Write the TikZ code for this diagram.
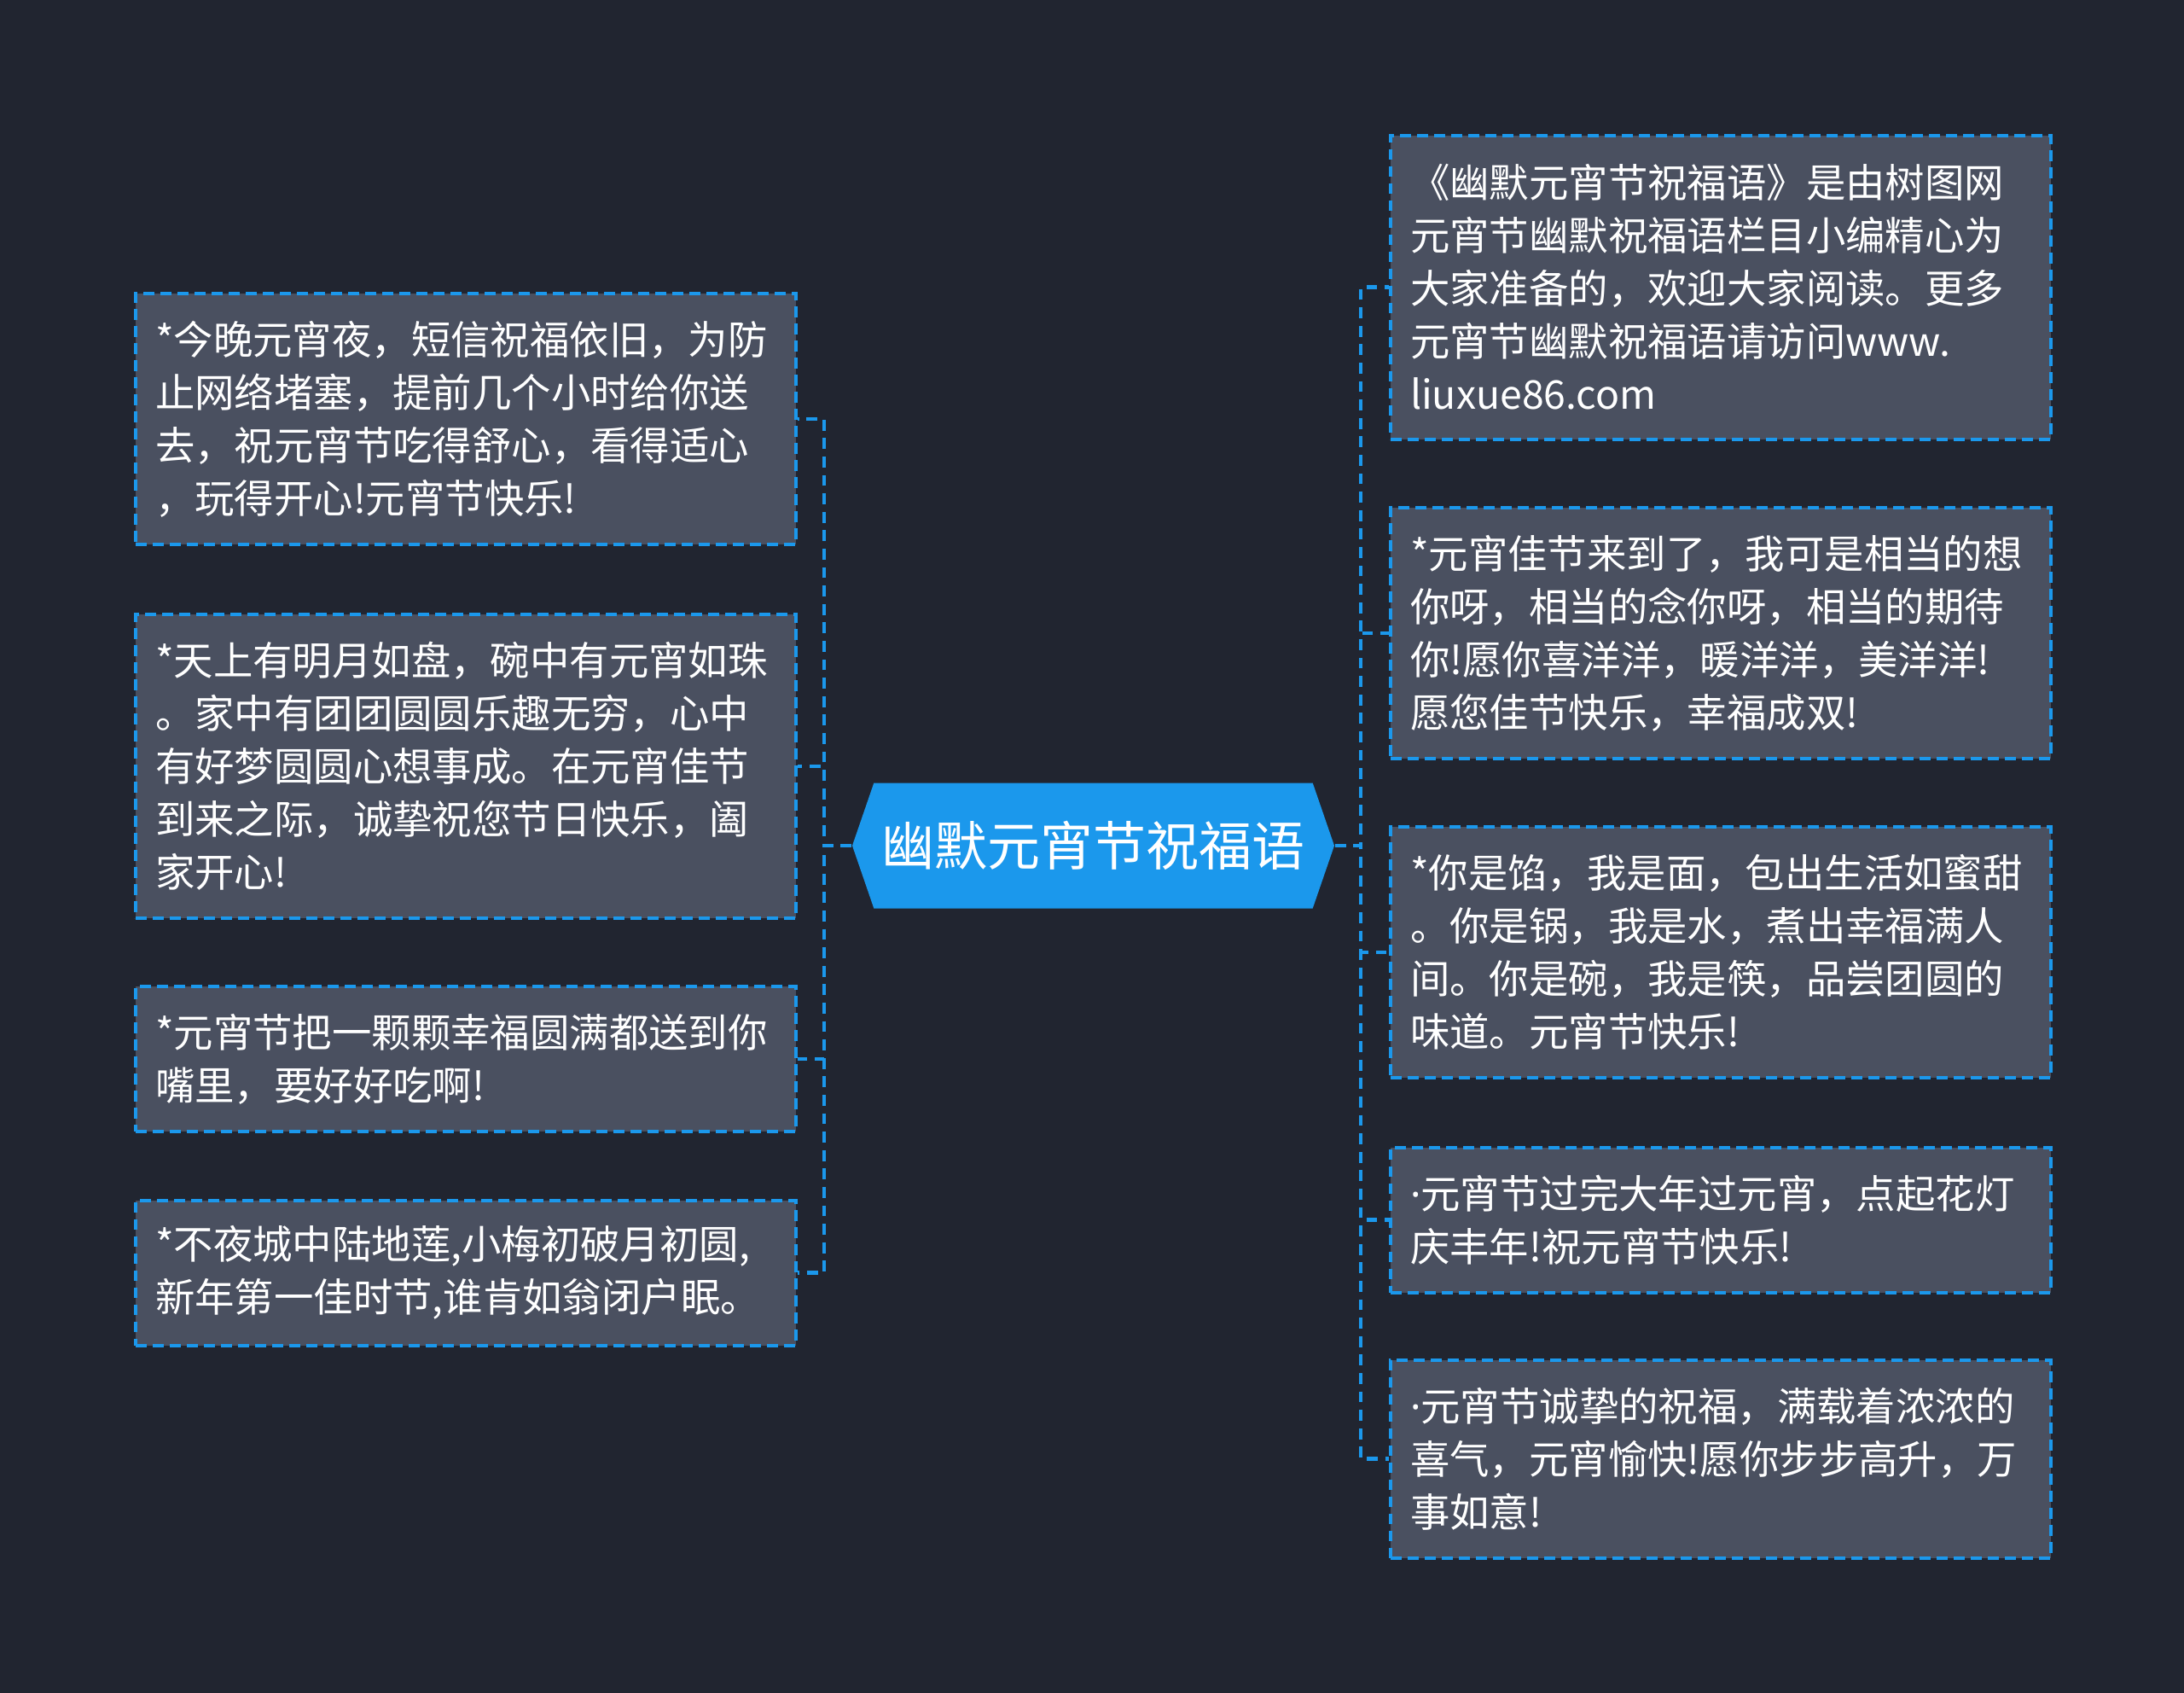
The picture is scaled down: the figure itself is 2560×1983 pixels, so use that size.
\documentclass[tikz,border=0pt]{standalone}
\usepackage{fontspec}
\newfontfamily\cjkfont{Noto Sans CJK SC}
\newfontfamily\latinfont{Noto Sans}
\usepackage{tikz}
\usetikzlibrary{shapes.symbols}
\definecolor{bgc}{RGB}{33,37,48}
\definecolor{acc}{RGB}{27,152,236}
\definecolor{leaffill}{RGB}{74,80,96}
\newcommand{\mdot}{{\latinfont ·}}
\tikzset{
  every node/.style={font=\cjkfont,text=white},
  leaf/.style={draw=acc,fill=leaffill,line width=1pt,dash pattern=on 3.2pt off 1.8pt,
    align=left,text width=182pt,inner xsep=5.75pt,inner ysep=3pt,anchor=west,
    font=\cjkfont\fontsize{11.6}{15.5}\selectfont},
  nlines/.style={minimum height=#1*15.5pt+11.5pt},
  rootblk/.style={signal,signal to=east and west,signal pointer angle=142,fill=acc,
    inner sep=0pt,minimum width=141.25pt,minimum height=36.75pt,
    font=\cjkfont\fontsize{15.5}{18}\selectfont},
  link/.style={draw=acc,line width=1.1pt,dash pattern=on 3.2pt off 2.2pt},
}

\begin{document}
\begin{tikzpicture}[x=0.25pt,y=0.25pt]

  % ---------------- background
  \useasboundingbox (0,0) rectangle (2560,-1983);
  \fill[bgc] (-12,12) rectangle (2572,-1995);

  % ---------------- root
  \node[rootblk] (root) at (1281.5,-991) {幽默元宵节祝福语};

  % ---------------- left branch
  \node[leaf,nlines=4] (L1) at (157,-491)    {*今晚元宵夜，短信祝福依旧，为防\\止网络堵塞，提前几个小时给你送\\去，祝元宵节吃得舒心，看得适心\\，玩得开心!元宵节快乐!};
  \node[leaf,nlines=5] (L2) at (157,-898)    {*天上有明月如盘，碗中有元宵如珠\\。家中有团团圆圆乐趣无穷，心中\\有好梦圆圆心想事成。在元宵佳节\\到来之际，诚挚祝您节日快乐，阖\\家开心!};
  \node[leaf,nlines=2] (L3) at (157,-1241)   {*元宵节把一颗颗幸福圆满都送到你\\嘴里，要好好吃啊!};
  \node[leaf,nlines=2] (L4) at (157,-1491.5) {*不夜城中陆地莲,小梅初破月初圆,\\新年第一佳时节,谁肯如翁闭户眠。};

  % ---------------- right branch
  \node[leaf,nlines=5] (R1) at (1628,-336.5)  {《幽默元宵节祝福语》是由树图网\\元宵节幽默祝福语栏目小编精心为\\大家准备的，欢迎大家阅读。更多\\元宵节幽默祝福语请访问www.\\liuxue86.com};
  \node[leaf,nlines=4] (R2) at (1628,-742)    {*元宵佳节来到了，我可是相当的想\\你呀，相当的念你呀，相当的期待\\你!愿你喜洋洋，暖洋洋，美洋洋!\\愿您佳节快乐，幸福成双!};
  \node[leaf,nlines=4] (R3) at (1628,-1116)   {*你是馅，我是面，包出生活如蜜甜\\。你是锅，我是水，煮出幸福满人\\间。你是碗，我是筷，品尝团圆的\\味道。元宵节快乐!};
  \node[leaf,nlines=2] (R4) at (1628,-1429.5) {\mdot 元宵节过完大年过元宵，点起花灯\\庆丰年!祝元宵节快乐!};
  \node[leaf,nlines=3] (R5) at (1628,-1709.5) {\mdot 元宵节诚挚的祝福，满载着浓浓的\\喜气，元宵愉快!愿你步步高升，万\\事如意!};

  % ---------------- links
  \foreach \n in {L1,L2,L3,L4}
    \draw[link] (root.west) -- ++(-32,0) |- (\n.east);
  \foreach \n in {R1,R2,R3,R4,R5}
    \draw[link] (root.east) -- ++(30,0) |- (\n.west);
\end{tikzpicture}
\end{document}
